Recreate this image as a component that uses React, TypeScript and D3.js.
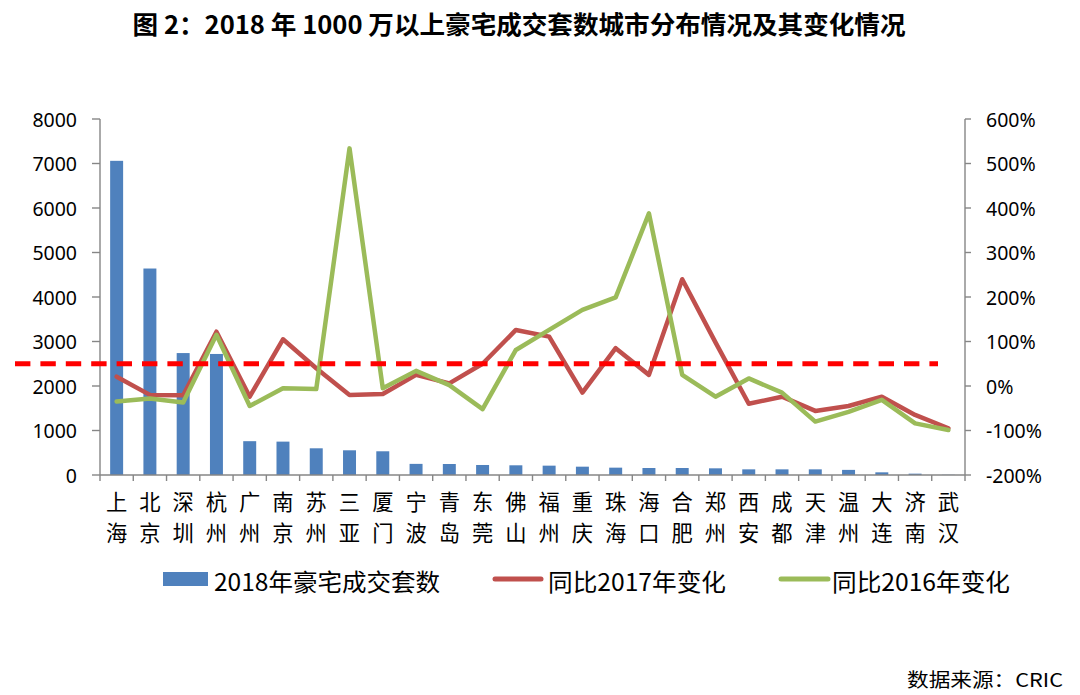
import React from 'react';
import * as d3 from 'd3';

const cities = ['上海','北京','深圳','杭州','广州','南京','苏州','三亚','厦门','宁波','青岛','东莞','佛山','福州','重庆','珠海','海口','合肥','郑州','西安','成都','天津','温州','大连','济南','武汉'];
const deals2018 = [7060,4640,2740,2720,760,750,600,555,533,250,247,225,218,210,187,165,157,157,150,127,127,127,115,60,30,5];
const vs2017 = [21,-20,-21,122,-24,105,40,-20,-18,25,6,50,126,111,-15,85,25,240,98,-40,-24,-56,-45,-24,-65,-95];
const vs2016 = [-35,-28,-37,115,-45,-5,-7,534,-5,34,2,-52,81,126,171,199,388,25,-24,17,-15,-80,-58,-31,-84,-99];
const leftTicks = [0,1000,2000,3000,4000,5000,6000,7000,8000];
const rightTicks = [-200,-100,0,100,200,300,400,500,600];
const threshold = 50;
const title = '图 2：2018 年 1000 万以上豪宅成交套数城市分布情况及其变化情况';
const legendLabels = ['2018年豪宅成交套数','同比2017年变化','同比2016年变化'];
const source = '数据来源：CRIC';

const BAR = '#4F81BD';
const RED = '#C0504D';
const GREEN = '#9BBB59';
const AXIS = '#868686';
const CJK = '"Noto Sans CJK SC", "Noto Sans", sans-serif';
const NUM = '"Noto Sans", "Noto Sans CJK SC", sans-serif';

export default function App() {
  const W = 1080, H = 695;
  const left = 100, right = 965, top = 119, bottom = 475;
  const x = d3.scaleBand<string>().domain(cities).range([left, right]).paddingInner(0.61).paddingOuter(0.305);
  const yL = d3.scaleLinear().domain([0, 8000]).range([bottom, top]);
  const yR = d3.scaleLinear().domain([-200, 600]).range([bottom, top]);
  const cx = (i: number) => (x(cities[i]) as number) + x.bandwidth() / 2;
  const line = d3.line<number>().x((_, i) => cx(i)).y(d => yR(d));
  const gapHalf = (x.step() - x.bandwidth()) / 2;
  const bounds = cities.map(c => (x(c) as number) - gapHalf).concat([right]);

  return (
    <svg width={W} height={H} style={{ position: 'absolute', left: 0, top: 0, background: '#fff' }}>
      <rect x={0} y={0} width={W} height={H} fill="#fff" />
      <text x={519} y={23} textAnchor="middle" dominantBaseline="central" fontFamily={CJK} fontWeight="bold" fontSize={25} textLength={773} lengthAdjust="spacingAndGlyphs" fill="#000">{title}</text>

      {/* bars */}
      {deals2018.map((v, i) => (
        <rect key={i} x={x(cities[i])} y={yL(v)} width={x.bandwidth()} height={bottom - yL(v)} fill={BAR} />
      ))}

      {/* axes */}
      <line x1={left} x2={left} y1={top} y2={bottom} stroke={AXIS} strokeWidth={1.4} />
      <line x1={right} x2={right} y1={top} y2={bottom} stroke={AXIS} strokeWidth={1.4} />
      <line x1={left} x2={right} y1={bottom} y2={bottom} stroke={AXIS} strokeWidth={1.4} />
      {leftTicks.map(t => (
        <g key={t}>
          <line x1={left - 8} x2={left} y1={yL(t)} y2={yL(t)} stroke={AXIS} strokeWidth={1.4} />
          <text x={77} y={yL(t)} textAnchor="end" dominantBaseline="central" fontFamily={NUM} fontSize={19.5} fill="#000">{t}</text>
        </g>
      ))}
      {rightTicks.map(t => (
        <g key={t}>
          <line x1={right} x2={right + 6} y1={yR(t)} y2={yR(t)} stroke={AXIS} strokeWidth={1.4} />
          <text x={986} y={yR(t)} textAnchor="start" dominantBaseline="central" fontFamily={NUM} fontSize={19.5} fill="#000">{t + '%'}</text>
        </g>
      ))}
      {bounds.map((b, i) => (
        <line key={i} x1={b} x2={b} y1={bottom} y2={bottom + 6} stroke={AXIS} strokeWidth={1.4} />
      ))}
      {cities.map((c, i) => (
        <g key={c}>
          <text x={cx(i)} y={510} textAnchor="middle" fontFamily={CJK} fontSize={21.3} fill="#000">{c[0]}</text>
          <text x={cx(i)} y={541} textAnchor="middle" fontFamily={CJK} fontSize={21.3} fill="#000">{c[1]}</text>
        </g>
      ))}

      {/* lines */}
      <path d={line(vs2017) as string} fill="none" stroke={RED} strokeWidth={4.5} strokeLinejoin="round" strokeLinecap="round" />
      <path d={line(vs2016) as string} fill="none" stroke={GREEN} strokeWidth={4.5} strokeLinejoin="round" strokeLinecap="round" />

      {/* threshold dashed line */}
      <line x1={15} x2={938} y1={yR(threshold)} y2={yR(threshold)} stroke="#FF0000" strokeWidth={5} strokeDasharray="15.4 10" />

      {/* legend */}
      <rect x={163} y={572} width={45} height={14} fill={BAR} />
      <text x={214} y={580} dominantBaseline="central" fontFamily={CJK} fontSize={24} textLength={226} lengthAdjust="spacingAndGlyphs" fill="#000">{legendLabels[0]}</text>
      <line x1={495} x2={541} y1={579} y2={579} stroke={RED} strokeWidth={5} strokeLinecap="round" />
      <text x={548} y={580} dominantBaseline="central" fontFamily={CJK} fontSize={24} textLength={178} lengthAdjust="spacingAndGlyphs" fill="#000">{legendLabels[1]}</text>
      <line x1={781} x2={828} y1={579} y2={579} stroke={GREEN} strokeWidth={5} strokeLinecap="round" />
      <text x={832} y={580} dominantBaseline="central" fontFamily={CJK} fontSize={24} textLength={178} lengthAdjust="spacingAndGlyphs" fill="#000">{legendLabels[2]}</text>

      <text x={907} y={678} dominantBaseline="central" fontFamily={CJK} fontSize={19} textLength={156} lengthAdjust="spacingAndGlyphs" fill="#000">{source}</text>
    </svg>
  );
}
